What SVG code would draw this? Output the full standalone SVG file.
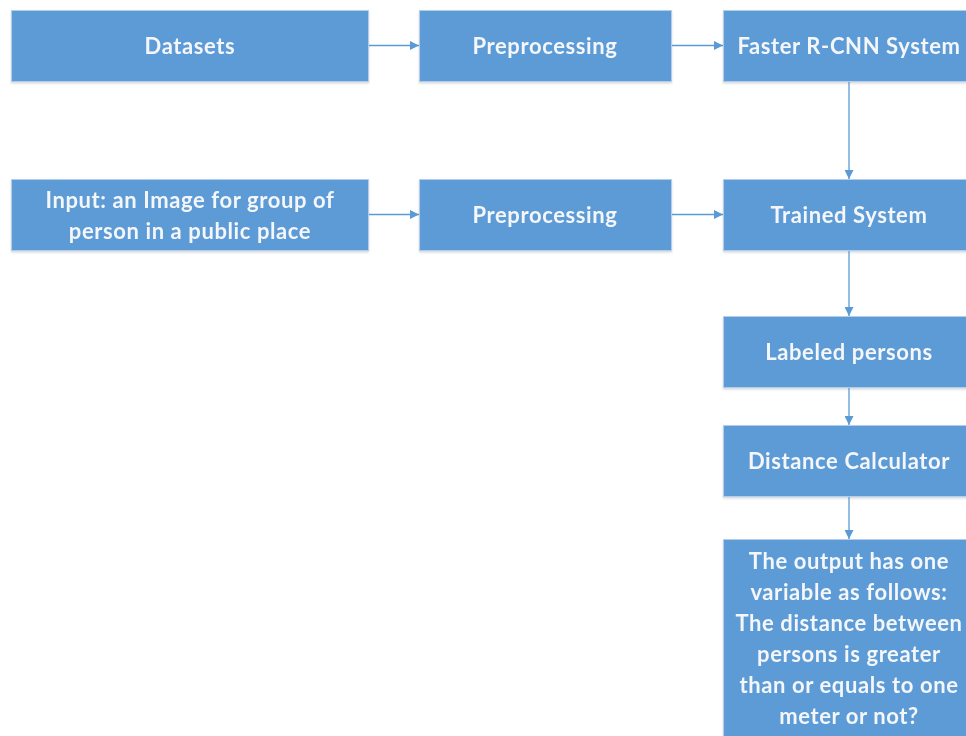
<svg xmlns="http://www.w3.org/2000/svg" width="966" height="736" viewBox="0 0 966 736">
  <style>
    .box { fill: #5b9bd5; stroke: #b4cdea; stroke-width: 1; }
    .lbl { font-family: Lato, "Open Sans", "Liberation Sans", sans-serif; font-weight: bold; font-size: 22px; letter-spacing: 0.6px; fill: #f4f6fa; text-anchor: middle; }
    .edge { stroke: #5b9bd5; stroke-width: 1.3; fill: none; marker-end: url(#arrow); }
  </style>
  <defs>
    <marker id="arrow" viewBox="0 0 10 10" refX="10" refY="5" markerUnits="userSpaceOnUse" markerWidth="9" markerHeight="9" orient="auto">
      <path d="M0,0 L10,5 L0,10 z" fill="#5b9bd5"/>
    </marker>
    <filter id="shadow" x="-5%" y="-5%" width="110%" height="120%">
      <feDropShadow dx="0" dy="1.5" stdDeviation="1.2" flood-color="#7f8fa6" flood-opacity="0.35"/>
    </filter>
  </defs>
  <rect width="966" height="736" fill="#ffffff"/>

  <g id="connectors">
    <line class="edge" x1="368" y1="45.5" x2="419" y2="45.5"/>
    <line class="edge" x1="671" y1="45.5" x2="723" y2="45.5"/>
    <line class="edge" x1="368" y1="214.5" x2="419" y2="214.5"/>
    <line class="edge" x1="671" y1="214.5" x2="723" y2="214.5"/>
    <line class="edge" x1="849" y1="81" x2="849" y2="179"/>
    <line class="edge" x1="849" y1="251" x2="849" y2="316"/>
    <line class="edge" x1="849" y1="388" x2="849" y2="425"/>
    <line class="edge" x1="849" y1="496" x2="849" y2="539"/>
  </g>

  <g id="datasets" filter="url(#shadow)">
    <rect class="box" x="11.5" y="10.5" width="357" height="71"/>
    <text class="lbl" x="190" y="53.5">Datasets</text>
  </g>
  <g id="preprocessing-1" filter="url(#shadow)">
    <rect class="box" x="419.5" y="10.5" width="252" height="71"/>
    <text class="lbl" x="545" y="53.5">Preprocessing</text>
  </g>
  <g id="faster-rcnn" filter="url(#shadow)">
    <rect class="box" x="723.5" y="10.5" width="252" height="71"/>
    <text class="lbl" x="849" y="53.5">Faster R-CNN System</text>
  </g>

  <g id="input-image" filter="url(#shadow)">
    <rect class="box" x="11.5" y="179.5" width="357" height="71"/>
    <text class="lbl" x="190" y="207.5">Input: an Image for group of</text>
    <text class="lbl" x="190" y="238.5">person in a public place</text>
  </g>
  <g id="preprocessing-2" filter="url(#shadow)">
    <rect class="box" x="419.5" y="179.5" width="252" height="71"/>
    <text class="lbl" x="545" y="222.5">Preprocessing</text>
  </g>
  <g id="trained-system" filter="url(#shadow)">
    <rect class="box" x="723.5" y="179.5" width="252" height="71"/>
    <text class="lbl" x="849" y="222.5">Trained System</text>
  </g>

  <g id="labeled-persons" filter="url(#shadow)">
    <rect class="box" x="723.5" y="316.5" width="252" height="71"/>
    <text class="lbl" x="849" y="359.5">Labeled persons</text>
  </g>
  <g id="distance-calculator" filter="url(#shadow)">
    <rect class="box" x="723.5" y="425.5" width="252" height="71"/>
    <text class="lbl" x="849" y="468.5">Distance Calculator</text>
  </g>

  <g id="output" filter="url(#shadow)">
    <rect class="box" x="723.5" y="539.5" width="252" height="210"/>
    <text class="lbl" x="849" y="568.5">The output has one</text>
    <text class="lbl" x="849" y="599.5">variable as follows:</text>
    <text class="lbl" x="849" y="630.5">The distance between</text>
    <text class="lbl" x="849" y="661.5">persons is greater</text>
    <text class="lbl" x="849" y="692.5">than or equals to one</text>
    <text class="lbl" x="849" y="723.5">meter or not?</text>
  </g>
</svg>
